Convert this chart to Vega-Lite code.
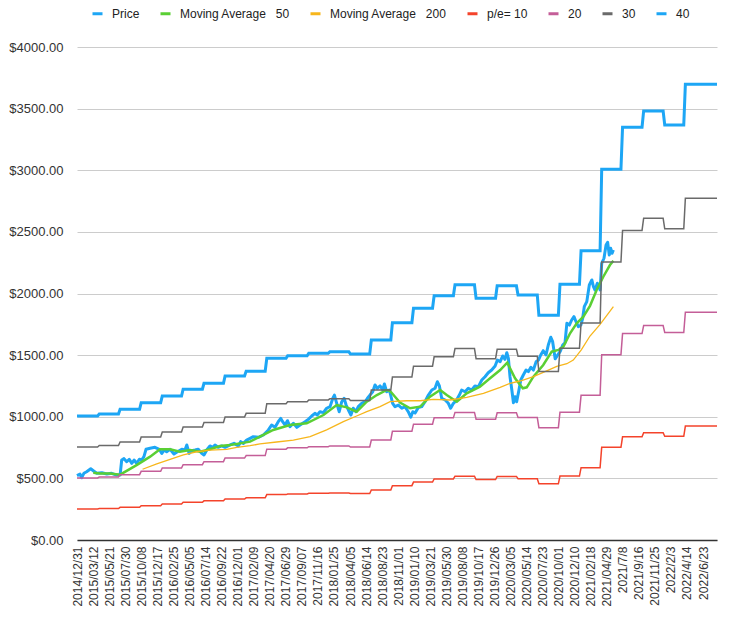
{
  "$schema": "https://vega.github.io/schema/vega-lite/v6.json",
  "width": 640,
  "height": 493,
  "autosize": {"type": "none"},
  "padding": {"left": 77, "top": 47, "right": 18, "bottom": 83},
  "background": "white",
  "config": {
    "view": {"stroke": null},
    "font": "Liberation Sans",
    "legend": {
      "orient": "none", "legendX": 14, "legendY": -40, "direction": "horizontal",
      "symbolType": "stroke", "symbolStrokeWidth": 3, "symbolSize": 100,
      "labelFontSize": 12, "labelColor": "#222", "labelFont": "Liberation Sans",
      "columnPadding": 14, "labelOffset": 8, "padding": 0
    }
  },
  "datasets": {
    "price": [
      {"d":"2014-12-31","v":522},{"d":"2015-01-13","v":535},{"d":"2015-01-20","v":505},{"d":"2015-01-30","v":541},{"d":"2015-02-11","v":554},{"d":"2015-03-01","v":578},{"d":"2015-03-12","v":562},{"d":"2015-03-27","v":541},{"d":"2015-04-18","v":546},{"d":"2015-05-10","v":535},{"d":"2015-05-31","v":541},{"d":"2015-06-22","v":527},{"d":"2015-07-07","v":527},{"d":"2015-07-14","v":649},{"d":"2015-07-24","v":660},{"d":"2015-08-05","v":635},{"d":"2015-08-16","v":655},{"d":"2015-08-27","v":622},{"d":"2015-09-06","v":649},{"d":"2015-09-17","v":622},{"d":"2015-09-29","v":655},{"d":"2015-10-09","v":649},{"d":"2015-10-19","v":676},{"d":"2015-10-28","v":736},{"d":"2015-11-15","v":744},{"d":"2015-12-06","v":752},{"d":"2015-12-25","v":736},{"d":"2016-01-05","v":703},{"d":"2016-01-15","v":730},{"d":"2016-01-26","v":716},{"d":"2016-02-10","v":736},{"d":"2016-02-27","v":698},{"d":"2016-03-13","v":716},{"d":"2016-04-01","v":736},{"d":"2016-04-15","v":730},{"d":"2016-04-23","v":771},{"d":"2016-05-03","v":703},{"d":"2016-05-14","v":725},{"d":"2016-05-29","v":730},{"d":"2016-06-12","v":736},{"d":"2016-06-27","v":703},{"d":"2016-07-07","v":690},{"d":"2016-07-19","v":730},{"d":"2016-08-02","v":763},{"d":"2016-08-14","v":752},{"d":"2016-08-24","v":771},{"d":"2016-09-07","v":752},{"d":"2016-09-22","v":763},{"d":"2016-10-07","v":752},{"d":"2016-10-29","v":771},{"d":"2016-11-15","v":784},{"d":"2016-12-04","v":763},{"d":"2016-12-14","v":798},{"d":"2016-12-26","v":784},{"d":"2017-01-09","v":811},{"d":"2017-01-24","v":825},{"d":"2017-02-07","v":838},{"d":"2017-03-01","v":833},{"d":"2017-03-23","v":852},{"d":"2017-04-14","v":893},{"d":"2017-04-28","v":933},{"d":"2017-05-13","v":914},{"d":"2017-05-27","v":960},{"d":"2017-06-07","v":987},{"d":"2017-06-15","v":960},{"d":"2017-06-26","v":933},{"d":"2017-07-06","v":968},{"d":"2017-07-17","v":919},{"d":"2017-08-01","v":947},{"d":"2017-08-16","v":914},{"d":"2017-08-30","v":933},{"d":"2017-09-21","v":960},{"d":"2017-10-05","v":979},{"d":"2017-10-20","v":1006},{"d":"2017-11-03","v":1028},{"d":"2017-11-13","v":1014},{"d":"2017-11-25","v":1041},{"d":"2017-12-10","v":1033},{"d":"2017-12-24","v":1069},{"d":"2018-01-08","v":1082},{"d":"2018-01-20","v":1150},{"d":"2018-01-27","v":1176},{"d":"2018-02-06","v":1109},{"d":"2018-02-17","v":1041},{"d":"2018-02-28","v":1122},{"d":"2018-03-10","v":1150},{"d":"2018-03-19","v":1095},{"d":"2018-03-29","v":1055},{"d":"2018-04-09","v":1014},{"d":"2018-04-19","v":1069},{"d":"2018-05-01","v":1041},{"d":"2018-05-11","v":1082},{"d":"2018-05-26","v":1109},{"d":"2018-06-10","v":1122},{"d":"2018-06-20","v":1150},{"d":"2018-07-01","v":1176},{"d":"2018-07-13","v":1203},{"d":"2018-07-23","v":1258},{"d":"2018-08-02","v":1231},{"d":"2018-08-14","v":1250},{"d":"2018-08-26","v":1217},{"d":"2018-09-02","v":1266},{"d":"2018-09-12","v":1203},{"d":"2018-09-24","v":1217},{"d":"2018-10-08","v":1109},{"d":"2018-10-18","v":1082},{"d":"2018-11-02","v":1095},{"d":"2018-11-17","v":1069},{"d":"2018-12-01","v":1082},{"d":"2018-12-15","v":1041},{"d":"2018-12-26","v":996},{"d":"2019-01-04","v":1041},{"d":"2019-01-14","v":1030},{"d":"2019-01-28","v":1075},{"d":"2019-02-12","v":1082},{"d":"2019-02-26","v":1122},{"d":"2019-03-13","v":1176},{"d":"2019-03-28","v":1217},{"d":"2019-04-11","v":1231},{"d":"2019-04-21","v":1284},{"d":"2019-04-30","v":1250},{"d":"2019-05-10","v":1150},{"d":"2019-05-25","v":1136},{"d":"2019-06-08","v":1109},{"d":"2019-06-18","v":1069},{"d":"2019-06-30","v":1109},{"d":"2019-07-12","v":1130},{"d":"2019-07-26","v":1176},{"d":"2019-08-05","v":1217},{"d":"2019-08-20","v":1203},{"d":"2019-09-03","v":1231},{"d":"2019-09-18","v":1217},{"d":"2019-10-02","v":1250},{"d":"2019-10-17","v":1244},{"d":"2019-11-01","v":1298},{"d":"2019-11-15","v":1325},{"d":"2019-11-29","v":1357},{"d":"2019-12-14","v":1379},{"d":"2019-12-29","v":1412},{"d":"2020-01-08","v":1460},{"d":"2020-01-20","v":1447},{"d":"2020-01-31","v":1493},{"d":"2020-02-10","v":1466},{"d":"2020-02-18","v":1520},{"d":"2020-02-25","v":1474},{"d":"2020-03-03","v":1325},{"d":"2020-03-11","v":1217},{"d":"2020-03-18","v":1114},{"d":"2020-03-25","v":1163},{"d":"2020-04-01","v":1122},{"d":"2020-04-11","v":1217},{"d":"2020-04-19","v":1298},{"d":"2020-04-30","v":1339},{"d":"2020-05-12","v":1379},{"d":"2020-05-22","v":1366},{"d":"2020-06-02","v":1401},{"d":"2020-06-13","v":1379},{"d":"2020-06-25","v":1447},{"d":"2020-07-05","v":1460},{"d":"2020-07-15","v":1501},{"d":"2020-07-26","v":1536},{"d":"2020-08-07","v":1501},{"d":"2020-08-17","v":1582},{"d":"2020-08-28","v":1645},{"d":"2020-09-05","v":1609},{"d":"2020-09-16","v":1470},{"d":"2020-09-23","v":1490},{"d":"2020-10-08","v":1530},{"d":"2020-10-19","v":1582},{"d":"2020-10-29","v":1601},{"d":"2020-11-06","v":1758},{"d":"2020-11-17","v":1744},{"d":"2020-11-27","v":1785},{"d":"2020-12-07","v":1812},{"d":"2020-12-16","v":1771},{"d":"2020-12-26","v":1731},{"d":"2021-01-06","v":1744},{"d":"2021-01-14","v":1799},{"d":"2021-01-21","v":1893},{"d":"2021-02-01","v":1934},{"d":"2021-02-12","v":2069},{"d":"2021-02-23","v":2110},{"d":"2021-03-02","v":2055},{"d":"2021-03-09","v":2028},{"d":"2021-03-19","v":2083},{"d":"2021-03-31","v":2028},{"d":"2021-04-07","v":2245},{"d":"2021-04-17","v":2286},{"d":"2021-04-26","v":2394},{"d":"2021-05-03","v":2415},{"d":"2021-05-10","v":2312},{"d":"2021-05-16","v":2367},{"d":"2021-05-22","v":2326},{"d":"2021-05-28","v":2353}
    ],
    "ma50": [
      {"d":"2015-03-12","v":546},{"d":"2015-04-10","v":540},{"d":"2015-05-24","v":540},{"d":"2015-07-07","v":530},{"d":"2015-09-17","v":608},{"d":"2015-11-15","v":676},{"d":"2015-12-28","v":736},{"d":"2016-02-10","v":736},{"d":"2016-03-24","v":716},{"d":"2016-05-07","v":730},{"d":"2016-06-20","v":716},{"d":"2016-08-02","v":736},{"d":"2016-09-15","v":763},{"d":"2016-10-29","v":771},{"d":"2016-12-11","v":784},{"d":"2017-01-24","v":798},{"d":"2017-03-08","v":838},{"d":"2017-05-05","v":893},{"d":"2017-07-17","v":933},{"d":"2017-09-28","v":947},{"d":"2017-12-10","v":1014},{"d":"2018-02-06","v":1095},{"d":"2018-03-22","v":1076},{"d":"2018-05-04","v":1041},{"d":"2018-06-17","v":1122},{"d":"2018-07-31","v":1176},{"d":"2018-09-12","v":1217},{"d":"2018-09-27","v":1209},{"d":"2018-11-09","v":1115},{"d":"2018-12-23","v":1069},{"d":"2019-02-05","v":1082},{"d":"2019-03-20","v":1163},{"d":"2019-05-03","v":1217},{"d":"2019-06-01","v":1176},{"d":"2019-07-15","v":1122},{"d":"2019-08-27","v":1190},{"d":"2019-10-24","v":1244},{"d":"2019-12-07","v":1312},{"d":"2020-01-20","v":1379},{"d":"2020-02-20","v":1439},{"d":"2020-03-25","v":1312},{"d":"2020-04-28","v":1231},{"d":"2020-05-15","v":1239},{"d":"2020-06-13","v":1325},{"d":"2020-07-26","v":1420},{"d":"2020-09-01","v":1528},{"d":"2020-09-30","v":1542},{"d":"2020-10-22","v":1569},{"d":"2020-11-20","v":1677},{"d":"2020-12-19","v":1758},{"d":"2021-01-17","v":1812},{"d":"2021-02-15","v":1900},{"d":"2021-03-16","v":2028},{"d":"2021-04-14","v":2136},{"d":"2021-05-13","v":2231},{"d":"2021-05-28","v":2266}
    ],
    "ma200": [
      {"d":"2015-10-13","v":574},{"d":"2015-12-14","v":617},{"d":"2016-02-10","v":655},{"d":"2016-04-08","v":690},{"d":"2016-06-05","v":716},{"d":"2016-08-02","v":730},{"d":"2016-10-14","v":735},{"d":"2016-11-27","v":752},{"d":"2017-01-24","v":765},{"d":"2017-03-08","v":780},{"d":"2017-05-20","v":795},{"d":"2017-08-01","v":811},{"d":"2017-10-13","v":838},{"d":"2017-12-24","v":893},{"d":"2018-03-07","v":960},{"d":"2018-05-04","v":1006},{"d":"2018-06-17","v":1041},{"d":"2018-08-14","v":1082},{"d":"2018-09-27","v":1122},{"d":"2018-12-08","v":1130},{"d":"2019-02-05","v":1130},{"d":"2019-04-04","v":1141},{"d":"2019-06-15","v":1136},{"d":"2019-08-27","v":1158},{"d":"2019-11-08","v":1190},{"d":"2020-01-20","v":1239},{"d":"2020-03-03","v":1271},{"d":"2020-04-16","v":1290},{"d":"2020-06-13","v":1325},{"d":"2020-08-10","v":1372},{"d":"2020-09-23","v":1409},{"d":"2020-11-06","v":1430},{"d":"2020-12-04","v":1460},{"d":"2021-01-08","v":1542},{"d":"2021-02-15","v":1655},{"d":"2021-03-31","v":1750},{"d":"2021-05-28","v":1893}
    ],
    "pe": [
      {"d":"2014-12-31","p/e= 10":251.5,"20":503,"30":754.5,"40":1006},{"d":"2015-03-31","p/e= 10":251.5,"20":503,"30":754.5,"40":1006},
      {"d":"2015-04-07","p/e= 10":255.5,"20":511,"30":766.5,"40":1022},{"d":"2015-06-30","p/e= 10":255.5,"20":511,"30":766.5,"40":1022},
      {"d":"2015-07-07","p/e= 10":265,"20":530,"30":795,"40":1060},{"d":"2015-09-30","p/e= 10":265,"20":530,"30":795,"40":1060},
      {"d":"2015-10-07","p/e= 10":278.5,"20":557,"30":835.5,"40":1114},{"d":"2015-12-31","p/e= 10":278.5,"20":557,"30":835.5,"40":1114},
      {"d":"2016-01-07","p/e= 10":292,"20":584,"30":876,"40":1168},{"d":"2016-03-31","p/e= 10":292,"20":584,"30":876,"40":1168},
      {"d":"2016-04-07","p/e= 10":305.75,"20":611.5,"30":917.25,"40":1223},{"d":"2016-06-30","p/e= 10":305.75,"20":611.5,"30":917.25,"40":1223},
      {"d":"2016-07-07","p/e= 10":317.75,"20":635.5,"30":953.25,"40":1271},{"d":"2016-09-30","p/e= 10":317.75,"20":635.5,"30":953.25,"40":1271},
      {"d":"2016-10-07","p/e= 10":332.5,"20":665,"30":997.5,"40":1330},{"d":"2016-12-31","p/e= 10":332.5,"20":665,"30":997.5,"40":1330},
      {"d":"2017-01-07","p/e= 10":342.5,"20":685,"30":1027.5,"40":1370},{"d":"2017-03-31","p/e= 10":342.5,"20":685,"30":1027.5,"40":1370},
      {"d":"2017-04-07","p/e= 10":368.5,"20":737,"30":1105.5,"40":1474},{"d":"2017-06-30","p/e= 10":368.5,"20":737,"30":1105.5,"40":1474},
      {"d":"2017-07-07","p/e= 10":373.75,"20":747.5,"30":1121.25,"40":1495},{"d":"2017-09-30","p/e= 10":373.75,"20":747.5,"30":1121.25,"40":1495},
      {"d":"2017-10-07","p/e= 10":378.75,"20":757.5,"30":1136.25,"40":1515},{"d":"2017-12-31","p/e= 10":378.75,"20":757.5,"30":1136.25,"40":1515},
      {"d":"2018-01-07","p/e= 10":381.75,"20":763.5,"30":1145.25,"40":1527},{"d":"2018-03-31","p/e= 10":381.75,"20":763.5,"30":1145.25,"40":1527},
      {"d":"2018-04-07","p/e= 10":377.25,"20":754.5,"30":1131.75,"40":1509},{"d":"2018-06-30","p/e= 10":377.25,"20":754.5,"30":1131.75,"40":1509},
      {"d":"2018-07-07","p/e= 10":405.75,"20":811.5,"30":1217.25,"40":1623},{"d":"2018-09-30","p/e= 10":405.75,"20":811.5,"30":1217.25,"40":1623},
      {"d":"2018-10-07","p/e= 10":440.75,"20":881.5,"30":1322.25,"40":1763},{"d":"2018-12-31","p/e= 10":440.75,"20":881.5,"30":1322.25,"40":1763},
      {"d":"2019-01-07","p/e= 10":470,"20":940,"30":1410,"40":1880},{"d":"2019-03-31","p/e= 10":470,"20":940,"30":1410,"40":1880},
      {"d":"2019-04-07","p/e= 10":495.5,"20":991,"30":1486.5,"40":1982},{"d":"2019-06-30","p/e= 10":495.5,"20":991,"30":1486.5,"40":1982},
      {"d":"2019-07-07","p/e= 10":517.75,"20":1035.5,"30":1553.25,"40":2071},{"d":"2019-09-30","p/e= 10":517.75,"20":1035.5,"30":1553.25,"40":2071},
      {"d":"2019-10-07","p/e= 10":490.25,"20":980.5,"30":1470.75,"40":1961},{"d":"2019-12-31","p/e= 10":490.25,"20":980.5,"30":1470.75,"40":1961},
      {"d":"2020-01-07","p/e= 10":515.75,"20":1031.5,"30":1547.25,"40":2063},{"d":"2020-03-31","p/e= 10":515.75,"20":1031.5,"30":1547.25,"40":2063},
      {"d":"2020-04-07","p/e= 10":497,"20":994,"30":1491,"40":1988},{"d":"2020-06-30","p/e= 10":497,"20":994,"30":1491,"40":1988},
      {"d":"2020-07-07","p/e= 10":455.75,"20":911.5,"30":1367.25,"40":1823},{"d":"2020-09-30","p/e= 10":455.75,"20":911.5,"30":1367.25,"40":1823},
      {"d":"2020-10-07","p/e= 10":518.75,"20":1037.5,"30":1556.25,"40":2075},{"d":"2020-12-31","p/e= 10":518.75,"20":1037.5,"30":1556.25,"40":2075},
      {"d":"2021-01-07","p/e= 10":586.75,"20":1173.5,"30":1760.25,"40":2347},{"d":"2021-03-31","p/e= 10":586.75,"20":1173.5,"30":1760.25,"40":2347},
      {"d":"2021-04-07","p/e= 10":752,"20":1504,"30":2256,"40":3008},{"d":"2021-06-30","p/e= 10":752,"20":1504,"30":2256,"40":3008},
      {"d":"2021-07-07","p/e= 10":837.25,"20":1674.5,"30":2511.75,"40":3349},{"d":"2021-09-30","p/e= 10":837.25,"20":1674.5,"30":2511.75,"40":3349},
      {"d":"2021-10-07","p/e= 10":870.25,"20":1740.5,"30":2610.75,"40":3481},{"d":"2021-12-31","p/e= 10":870.25,"20":1740.5,"30":2610.75,"40":3481},
      {"d":"2022-01-07","p/e= 10":841.75,"20":1683.5,"30":2525.25,"40":3367},{"d":"2022-03-31","p/e= 10":841.75,"20":1683.5,"30":2525.25,"40":3367},
      {"d":"2022-04-07","p/e= 10":924.25,"20":1848.5,"30":2772.75,"40":3697},{"d":"2022-08-23","p/e= 10":924.25,"20":1848.5,"30":2772.75,"40":3697}
    ]
  },
  "encoding": {
    "x": {
      "field": "d", "type": "temporal",
      "scale": {"type": "utc", "domain": [{"year": 2014, "month": 12, "date": 31, "utc": true}, {"year": 2022, "month": 8, "date": 23, "utc": true}]},
      "axis": {
        "title": null, "grid": false, "ticks": false,
        "values": [
          {"year":2014,"month":12,"date":31,"utc":true},{"year":2015,"month":3,"date":12,"utc":true},{"year":2015,"month":5,"date":21,"utc":true},{"year":2015,"month":7,"date":30,"utc":true},{"year":2015,"month":10,"date":8,"utc":true},{"year":2015,"month":12,"date":17,"utc":true},{"year":2016,"month":2,"date":25,"utc":true},{"year":2016,"month":5,"date":5,"utc":true},{"year":2016,"month":7,"date":14,"utc":true},{"year":2016,"month":9,"date":22,"utc":true},{"year":2016,"month":12,"date":1,"utc":true},{"year":2017,"month":2,"date":9,"utc":true},{"year":2017,"month":4,"date":20,"utc":true},{"year":2017,"month":6,"date":29,"utc":true},{"year":2017,"month":9,"date":7,"utc":true},{"year":2017,"month":11,"date":16,"utc":true},{"year":2018,"month":1,"date":25,"utc":true},{"year":2018,"month":4,"date":5,"utc":true},{"year":2018,"month":6,"date":14,"utc":true},{"year":2018,"month":8,"date":23,"utc":true},{"year":2018,"month":11,"date":1,"utc":true},{"year":2019,"month":1,"date":10,"utc":true},{"year":2019,"month":3,"date":21,"utc":true},{"year":2019,"month":5,"date":30,"utc":true},{"year":2019,"month":8,"date":8,"utc":true},{"year":2019,"month":10,"date":17,"utc":true},{"year":2019,"month":12,"date":26,"utc":true},{"year":2020,"month":3,"date":5,"utc":true},{"year":2020,"month":5,"date":14,"utc":true},{"year":2020,"month":7,"date":23,"utc":true},{"year":2020,"month":10,"date":1,"utc":true},{"year":2020,"month":12,"date":10,"utc":true},{"year":2021,"month":2,"date":18,"utc":true},{"year":2021,"month":4,"date":29,"utc":true},{"year":2021,"month":7,"date":8,"utc":true},{"year":2021,"month":9,"date":16,"utc":true},{"year":2021,"month":11,"date":25,"utc":true},{"year":2022,"month":2,"date":3,"utc":true},{"year":2022,"month":4,"date":14,"utc":true},{"year":2022,"month":6,"date":23,"utc":true}
        ],
        "labelExpr": "datum.value < 1622505600000 ? utcFormat(datum.value, '%Y/%m/%d') : utcFormat(datum.value, '%Y/%-m/%-d')",
        "labelAngle": 270, "labelAlign": "right", "labelBaseline": "middle",
        "labelPadding": 6, "labelFontSize": 12, "labelColor": "#333", "labelFont": "Liberation Sans",
        "labelOverlap": false, "labelFlush": false, "labelBound": false,
        "domainColor": "#333", "domainWidth": 1.5
      }
    },
    "y": {
      "field": "v", "type": "quantitative",
      "scale": {"domain": [0, 4000], "nice": false, "zero": true},
      "axis": {
        "title": null, "values": [0, 500, 1000, 1500, 2000, 2500, 3000, 3500, 4000],
        "format": "$.2f", "ticks": false, "domain": false, "labelPadding": 14,
        "labelFontSize": 13, "labelColor": "#333", "labelFont": "Liberation Sans",
        "gridColor": "#cccccc", "gridWidth": 1
      }
    }
  },
  "layer": [
    {
      "data": {"name": "price"},
      "mark": {"type": "line", "strokeWidth": 3, "strokeJoin": "round"},
      "encoding": {
        "color": {"datum": "Price", "type": "nominal",
          "scale": {"domain": ["Price", "Moving Average\u00a0\u00a0\u00a050", "Moving Average\u00a0\u00a0\u00a0200", "p/e= 10", "20", "30", "40"],
                    "range": ["#1da6f5", "#5acf34", "#f7b61c", "#f4432b", "#c45e98", "#6a6a6a", "#1da6f5"]},
          "legend": {"title": null}}
      }
    },
    {
      "data": {"name": "ma50"},
      "mark": {"type": "line", "strokeWidth": 2.5},
      "encoding": {"color": {"datum": "Moving Average\u00a0\u00a0\u00a050", "type": "nominal", "legend": {"title": null}}}
    },
    {
      "data": {"name": "ma200"},
      "mark": {"type": "line", "strokeWidth": 1.3},
      "encoding": {"color": {"datum": "Moving Average\u00a0\u00a0\u00a0200", "type": "nominal", "legend": {"title": null}}}
    },
    {
      "data": {"name": "pe"},
      "transform": [{"fold": ["p/e= 10", "20", "30"], "as": ["s", "v"]}],
      "mark": {"type": "line", "strokeWidth": 1.5},
      "encoding": {
        "color": {"field": "s", "type": "nominal", "legend": {"title": null}}
      }
    },
    {
      "data": {"name": "pe"},
      "transform": [{"fold": ["40"], "as": ["s", "v"]}],
      "mark": {"type": "line", "strokeWidth": 3},
      "encoding": {
        "color": {"field": "s", "type": "nominal", "legend": {"title": null}}
      }
    }
  ]
}
